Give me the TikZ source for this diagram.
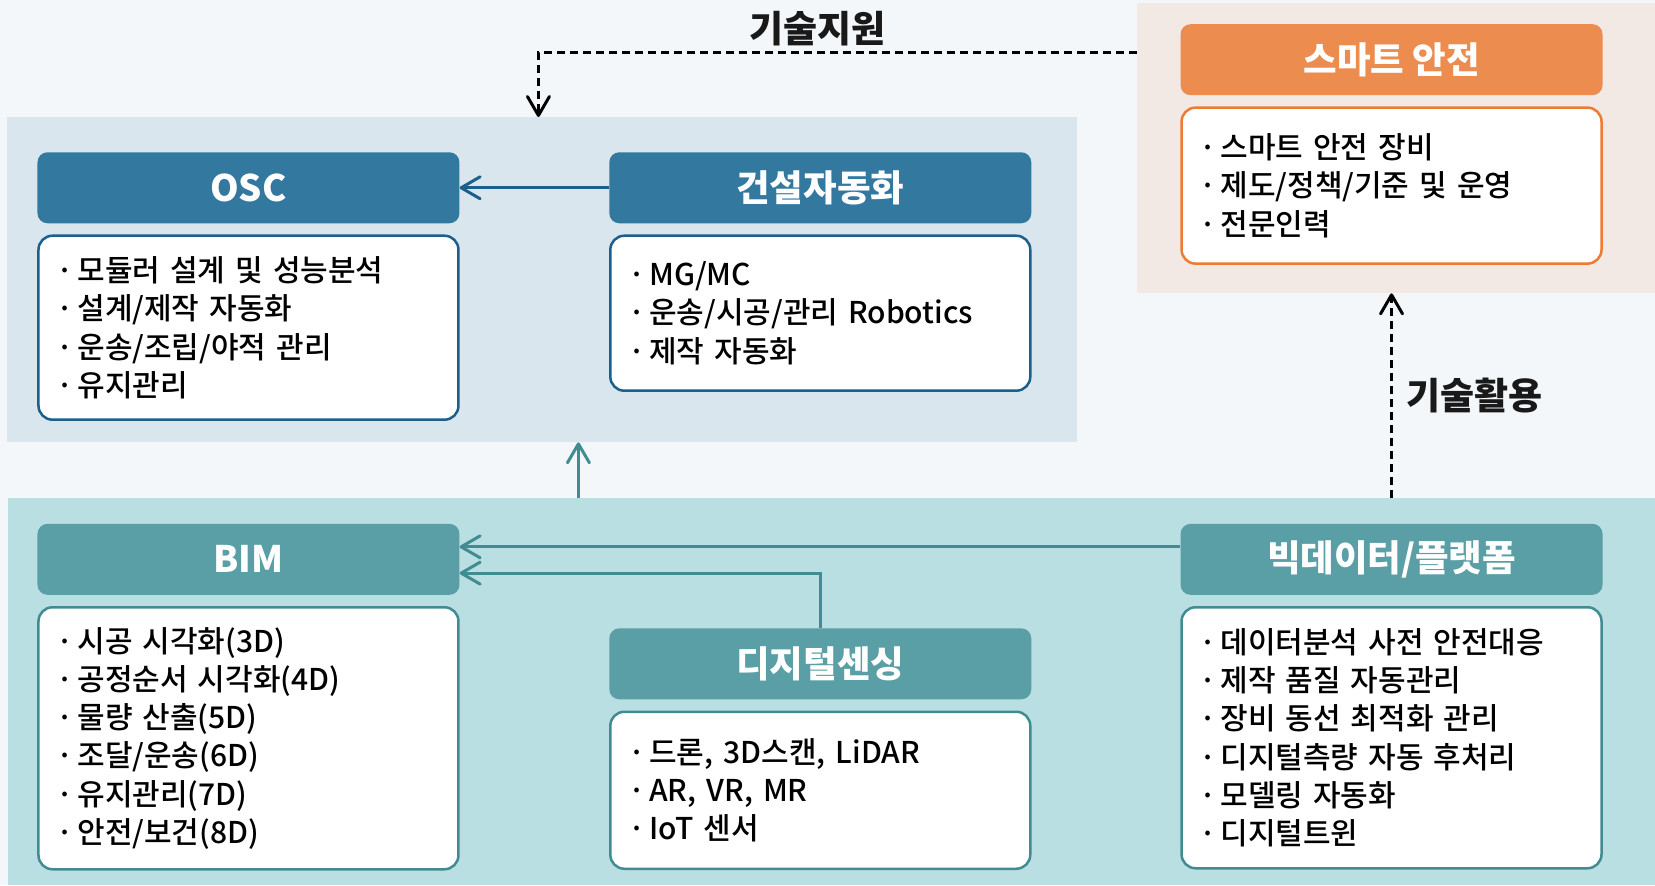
\documentclass[tikz,border=0pt]{standalone}
\usepackage{fontspec}
\setmainfont{Noto Sans CJK KR}
\newfontfamily\bodyfont{Noto Sans CJK KR Medium}
\usetikzlibrary{arrows.meta,positioning}
\definecolor{bgcol}{HTML}{F3F7FA}
\definecolor{topcol}{HTML}{DAE6EE}
\definecolor{safecol}{HTML}{F2E8E4}
\definecolor{basecol}{HTML}{BADFE2}
\definecolor{bluehead}{HTML}{32789F}
\definecolor{blueline}{HTML}{1B5F8D}
\definecolor{orangehead}{HTML}{EC8D4F}
\definecolor{orangeline}{HTML}{EE7B32}
\definecolor{tealhead}{HTML}{5A9FA6}
\definecolor{tealline}{HTML}{418C93}
\newcommand\itm{\makebox[15.5pt][l]{\hspace{-5.5pt}·}}

\begin{document}
\begin{tikzpicture}[x=1pt,y=-1pt,
panel/.style={inner sep=0pt, anchor=north west},
head/.style={rounded corners=10pt, minimum width=422pt, minimum height=71pt, inner sep=0pt, text=white, font=\fontsize{36.5}{36.5}\selectfont\bfseries},
body/.style={draw, line width=2.5pt, fill=white, rounded corners=14pt, inner xsep=23.5pt, text width=373pt, align=left, font=\bodyfont\fontsize{30}{38.3}\selectfont, below=11pt of #1},
tip/.style={-{Straight Barb[length=19pt,width=22pt,round]}, line width=3pt},
dasharr/.style={tip, black, dash pattern=on 8pt off 5pt},
lbl/.style={font=\fontsize{37}{37}\selectfont\bfseries, text=black!90, inner sep=0pt}]
\fill[bgcol] (0,0) rectangle (1655,885);
\node[panel, fill=topcol, minimum width=1070pt, minimum height=325pt] (toppanel) at (7,117) {};
\node[panel, fill=safecol, minimum width=518pt, minimum height=290pt] (safepanel) at (1137,3) {};
\node[panel, fill=basecol, minimum width=1647pt, minimum height=387pt] (basepanel) at (8,498) {};

\node[head, fill=bluehead] (osc) at (248.5,187.8) {OSC};
\node[body=osc, draw=blueline, minimum height=184pt] (oscbody) {\itm 모듈러 설계 및 성능분석\\\itm 설계/제작 자동화\\\itm 운송/조립/야적 관리\\\itm 유지관리};
\node[head, fill=bluehead] (autom) at (820.4,187.8) {건설자동화};
\node[body=autom, draw=blueline, minimum height=155pt] (automibody) {\itm MG/MC\\\itm 운송/시공/관리 Robotics\\\itm 제작 자동화};
\node[head, fill=orangehead] (safety) at (1391.7,59.7) {스마트 안전};
\node[body=safety, draw=orangeline, minimum height=156pt] (safetybody) {\itm 스마트 안전 장비\\\itm 제도/정책/기준 및 운영\\\itm 전문인력};
\node[head, fill=tealhead] (bim) at (248.5,559.4) {BIM};
\node[body=bim, draw=tealline, minimum height=262pt] (bimbody) {\itm 시공 시각화(3D)\\\itm 공정순서 시각화(4D)\\\itm 물량 산출(5D)\\\itm 조달/운송(6D)\\\itm 유지관리(7D)\\\itm 안전/보건(8D)};
\node[head, fill=tealhead] (sensing) at (820.4,663.9) {디지털센싱};
\node[body=sensing, draw=tealline, minimum height=157pt] (sensingbody) {\itm 드론, 3D스캔, LiDAR\\\itm AR, VR, MR\\\itm IoT 센서};
\node[head, fill=tealhead] (bigdata) at (1391.7,559.4) {빅데이터/플랫폼};
\node[body=bigdata, draw=tealline, minimum height=261pt] (bigdatabody) {\itm 데이터분석 사전 안전대응\\\itm 제작 품질 자동관리\\\itm 장비 동선 최적화 관리\\\itm 디지털측량 자동 후처리\\\itm 모델링 자동화\\\itm 디지털트윈};

\coordinate (supp) at (538.5,52.7);
\coordinate (up) at (578.5,0);
\draw[tip, blueline] (autom.west) -- (osc.east);
\draw[tip, tealline] (up |- basepanel.north) -- (up |- toppanel.south);
\draw[tip, tealline] ([yshift=12.5pt]bigdata.west) -- ([yshift=12.5pt]bim.east);
\draw[tip, tealline] (sensing.north) |- ([yshift=-13.8pt]bim.east);
\draw[dasharr] (safepanel.west |- supp) -| (supp |- toppanel.north);
\draw[dasharr] (bigdata.north |- basepanel.north) -- (bigdata.north |- safepanel.south);
\node[lbl] (support) at (818,29) {기술지원};
\node[lbl, anchor=west] (use) at (1406,396) {기술활용};
\end{tikzpicture}
\end{document}
